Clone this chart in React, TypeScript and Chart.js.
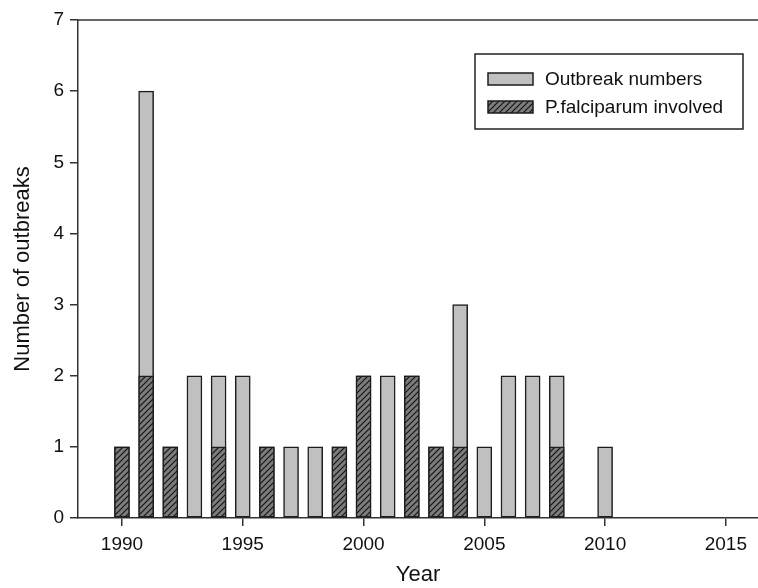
import React, { useEffect, useRef } from "react";
import { Chart, registerables } from "chart.js";

Chart.register(...registerables);

const years = [1990, 1991, 1992, 1993, 1994, 1995, 1996, 1997, 1998, 1999, 2000, 2001, 2002, 2003, 2004, 2005, 2006, 2007, 2008, 2009, 2010];
const outbreakNumbers = [1, 6, 1, 2, 2, 2, 1, 1, 1, 1, 2, 2, 2, 1, 3, 1, 2, 2, 2, null, 1];
const falciparumInvolved = [1, 2, 1, null, 1, null, 1, null, null, 1, 2, null, 2, 1, 1, null, null, null, 1, null, null];
const xTicks = [1990, 1995, 2000, 2005, 2010, 2015];
const seriesLabels = ["Outbreak numbers", "P.falciparum involved"];

const FONT = '"Liberation Sans", Arial, sans-serif';

function makeHatch(): CanvasPattern | string {
  const c = document.createElement("canvas");
  c.width = 6;
  c.height = 6;
  const g = c.getContext("2d");
  if (!g) return "#777";
  g.fillStyle = "#7c7c7c";
  g.fillRect(0, 0, 6, 6);
  g.strokeStyle = "#151515";
  g.lineWidth = 1.2;
  g.beginPath();
  g.moveTo(0, 6); g.lineTo(6, 0);
  g.moveTo(-1, 1); g.lineTo(1, -1);
  g.moveTo(5, 7); g.lineTo(7, 5);
  g.stroke();
  const p = g.createPattern(c, "repeat");
  return p || "#777";
}

export default function App() {
  const ref = useRef<HTMLCanvasElement | null>(null);
  useEffect(() => {
    if (!ref.current) return;
    const hatch = makeHatch();
    const gray = "#c0c0c0";
    const edge = "#1c1c1c";

    const framePlugin = {
      id: "frameAndLegend",
      afterDraw(chart: any) {
        const { ctx, chartArea } = chart;
        ctx.save();
        ctx.strokeStyle = "#333";
        ctx.lineWidth = 1.5;
        ctx.beginPath();
        ctx.moveTo(chartArea.left, chartArea.top);
        ctx.lineTo(chartArea.right, chartArea.top);
        ctx.stroke();

        // legend box
        const bx = chartArea.right - 283;
        const by = chartArea.top + 34;
        const bw = 268;
        const bh = 75;
        ctx.fillStyle = "#fff";
        ctx.fillRect(bx, by, bw, bh);
        ctx.strokeStyle = "#222";
        ctx.lineWidth = 1.5;
        ctx.strokeRect(bx, by, bw, bh);
        const fills = [gray, hatch];
        const rows = [by + 25, by + 53];
        rows.forEach((cy, i) => {
          ctx.fillStyle = fills[i] as any;
          ctx.fillRect(bx + 13, cy - 6, 45, 12);
          ctx.strokeStyle = edge;
          ctx.lineWidth = 1.5;
          ctx.strokeRect(bx + 13, cy - 6, 45, 12);
          ctx.fillStyle = "#111";
          ctx.font = `19px ${FONT}`;
          ctx.textBaseline = "middle";
          ctx.textAlign = "left";
          ctx.fillText(seriesLabels[i], bx + 70, cy + 1);
        });
        ctx.restore();
      },
    };

    const chart = new Chart(ref.current, {
      type: "bar",
      data: {
        datasets: [
          {
            label: seriesLabels[1],
            data: years.map((x, i) => ({ x, y: falciparumInvolved[i] })) as any,
            backgroundColor: hatch as any,
            borderColor: edge,
            borderWidth: 1.5,
            borderSkipped: false,
            barThickness: 15,
            grouped: false,
            order: 0,
          },
          {
            label: seriesLabels[0],
            data: years.map((x, i) => ({ x, y: outbreakNumbers[i] })) as any,
            backgroundColor: gray,
            borderColor: edge,
            borderWidth: 1.5,
            borderSkipped: false,
            barThickness: 15,
            grouped: false,
            order: 1,
          },
        ],
      },
      options: {
        animation: false,
        responsive: false,
        devicePixelRatio: 1,
        layout: { padding: { top: 20, right: 0, left: 0, bottom: 0 } },
        plugins: { legend: { display: false }, tooltip: { enabled: false } },
        scales: {
          x: {
            type: "linear",
            offset: false,
            min: 1988.18,
            max: 2016.33,
            afterBuildTicks: (s: any) => {
              s.ticks = xTicks.map((v) => ({ value: v }));
            },
            afterFit: (s: any) => {
              s.height = 70;
            },
            grid: { offset: false, drawOnChartArea: false, drawTicks: true, tickLength: 8, color: "#333", lineWidth: 1.5 },
            border: { display: true, color: "#333", width: 1.5 },
            ticks: {
              font: { family: FONT, size: 19 },
              color: "#111",
              padding: 7,
              autoSkip: false,
              maxRotation: 0,
              includeBounds: false,
              callback: (v: any) => String(v),
            },
            title: {
              display: true,
              text: "Year",
              font: { family: FONT, size: 22 },
              color: "#111",
              padding: { top: 0, bottom: 0 },
            },
          },
          y: {
            type: "linear",
            min: 0,
            max: 7,
            afterFit: (s: any) => {
              s.width = 78;
            },
            grid: { drawOnChartArea: false, drawTicks: true, tickLength: 8, color: "#333", lineWidth: 1.5 },
            border: { display: true, color: "#333", width: 1.5 },
            ticks: {
              stepSize: 1,
              font: { family: FONT, size: 19 },
              color: "#111",
              padding: 6,
            },
            title: {
              display: true,
              text: "Number of outbreaks",
              font: { family: FONT, size: 22 },
              color: "#111",
              padding: { top: 10, bottom: 0 },
            },
          },
        },
      },
      plugins: [framePlugin],
    });
    return () => chart.destroy();
  }, []);

  return (
    <div style={{ position: "fixed", left: 0, top: 0, width: 758, height: 588, background: "#fff" }}>
      <canvas ref={ref} width={758} height={588} style={{ width: 758, height: 588, display: "block" }} />
    </div>
  );
}
